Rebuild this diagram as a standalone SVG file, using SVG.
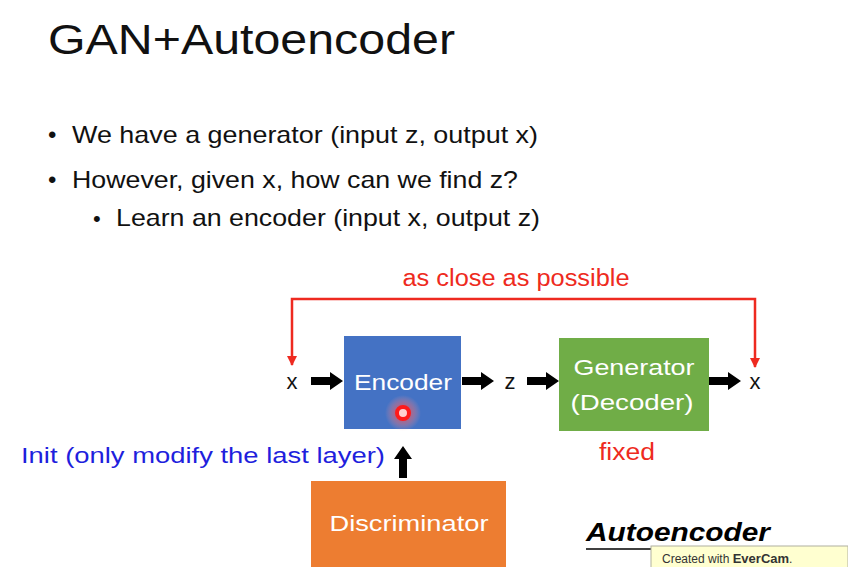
<svg xmlns="http://www.w3.org/2000/svg" width="848" height="567" viewBox="0 0 848 567">
<style>
text{font-family:"Liberation Sans",Arial,sans-serif}
.t{font-size:42px;fill:#111}
.b{font-size:24px;fill:#111}
.w{font-size:22px;fill:#fff;text-anchor:middle}
.lbl{font-size:22px;fill:#111;text-anchor:middle}
.red{fill:#ee2a20;font-size:23px}
.blk{fill:#000}
</style>
<defs>
<marker id="rh" viewBox="0 0 10 10" refX="9" refY="5" markerWidth="10" markerHeight="10" markerUnits="userSpaceOnUse" orient="auto-start-reverse"><path d="M0,0 L10,5 L0,10 z" fill="#ee2a20"/></marker>
<path id="barrow" d="M0,-4 L19,-4 L19,-9 L32,0 L19,9 L19,4 L0,4 z"/>
<radialGradient id="glow"><stop offset="0" stop-color="#ff3030" stop-opacity="0.85"/><stop offset="0.6" stop-color="#ff7070" stop-opacity="0.4"/><stop offset="1" stop-color="#ffa0a0" stop-opacity="0"/></radialGradient>
</defs>
<rect width="848" height="567" fill="#fff"/>
<text class="t" x="48" y="54" textLength="407" lengthAdjust="spacingAndGlyphs">GAN+Autoencoder</text>
<text class="b" x="48" y="143">•</text>
<text class="b" x="72" y="143" textLength="466" lengthAdjust="spacingAndGlyphs">We have a generator (input z, output x)</text>
<text class="b" x="48" y="188">•</text>
<text class="b" x="72" y="188" textLength="446" lengthAdjust="spacingAndGlyphs">However, given x, how can we find z?</text>
<text class="b" x="93" y="226" style="font-size:22px">•</text>
<text class="b" x="116" y="226" textLength="424" lengthAdjust="spacingAndGlyphs">Learn an encoder (input x, output z)</text>
<g id="connectors">
<path d="M292,365 L292,299 L755,299 L755,367" fill="none" stroke="#ee2a20" stroke-width="2.5" marker-start="url(#rh)" marker-end="url(#rh)"/>
<use href="#barrow" x="311" y="381" class="blk"/>
<use href="#barrow" x="462" y="381" class="blk"/>
<use href="#barrow" x="527" y="381" class="blk"/>
<use href="#barrow" x="709" y="381" class="blk"/>
<use href="#barrow" transform="translate(403,478) rotate(-90)" class="blk"/>
</g>
<text class="red" x="516" y="286" text-anchor="middle" textLength="227" lengthAdjust="spacingAndGlyphs">as close as possible</text>
<text class="lbl" x="292" y="389">x</text>
<text class="lbl" x="510" y="389">z</text>
<text class="lbl" x="755" y="389">x</text>
<g id="encoder">
<rect x="344" y="336" width="117" height="93" fill="#4472c4"/>
<text class="w" x="403" y="390" textLength="98" lengthAdjust="spacingAndGlyphs">Encoder</text>
</g>
<g id="cursor">
<circle cx="403" cy="413" r="18" fill="url(#glow)"/>
<circle cx="403" cy="413" r="6" fill="#ffd0d0" stroke="#ff1a1a" stroke-width="4"/>
</g>
<g id="generator">
<rect x="559" y="338" width="150" height="93" fill="#70ad47"/>
<text class="w" x="634" y="375" textLength="121" lengthAdjust="spacingAndGlyphs">Generator</text>
<text class="w" x="632" y="410" textLength="123" lengthAdjust="spacingAndGlyphs">(Decoder)</text>
</g>
<text class="red" x="599" y="460" textLength="56" lengthAdjust="spacingAndGlyphs">fixed</text>
<text x="21" y="463" style="font-size:22px;fill:#1f1fdd" textLength="364" lengthAdjust="spacingAndGlyphs">Init (only modify the last layer)</text>
<g id="discriminator">
<rect x="311" y="481" width="195" height="86" fill="#ed7d31"/>
<text class="w" x="409" y="531" textLength="159" lengthAdjust="spacingAndGlyphs">Discriminator</text>
</g>
<text x="586" y="541" style="font-size:25px;font-weight:bold;font-style:italic;fill:#000" textLength="184" lengthAdjust="spacingAndGlyphs">Autoencoder</text>
<line x1="586" y1="549" x2="770" y2="549" stroke="#000" stroke-width="1.5"/>
<g id="watermark">
<rect x="651" y="546" width="197" height="22" fill="#ffffd0" stroke="#b0b0a0" stroke-width="1"/>
<text x="662" y="563" style="font-size:12px;fill:#333">Created with <tspan style="font-weight:bold;font-size:13px">EverCam</tspan>.</text>
</g>
</svg>
